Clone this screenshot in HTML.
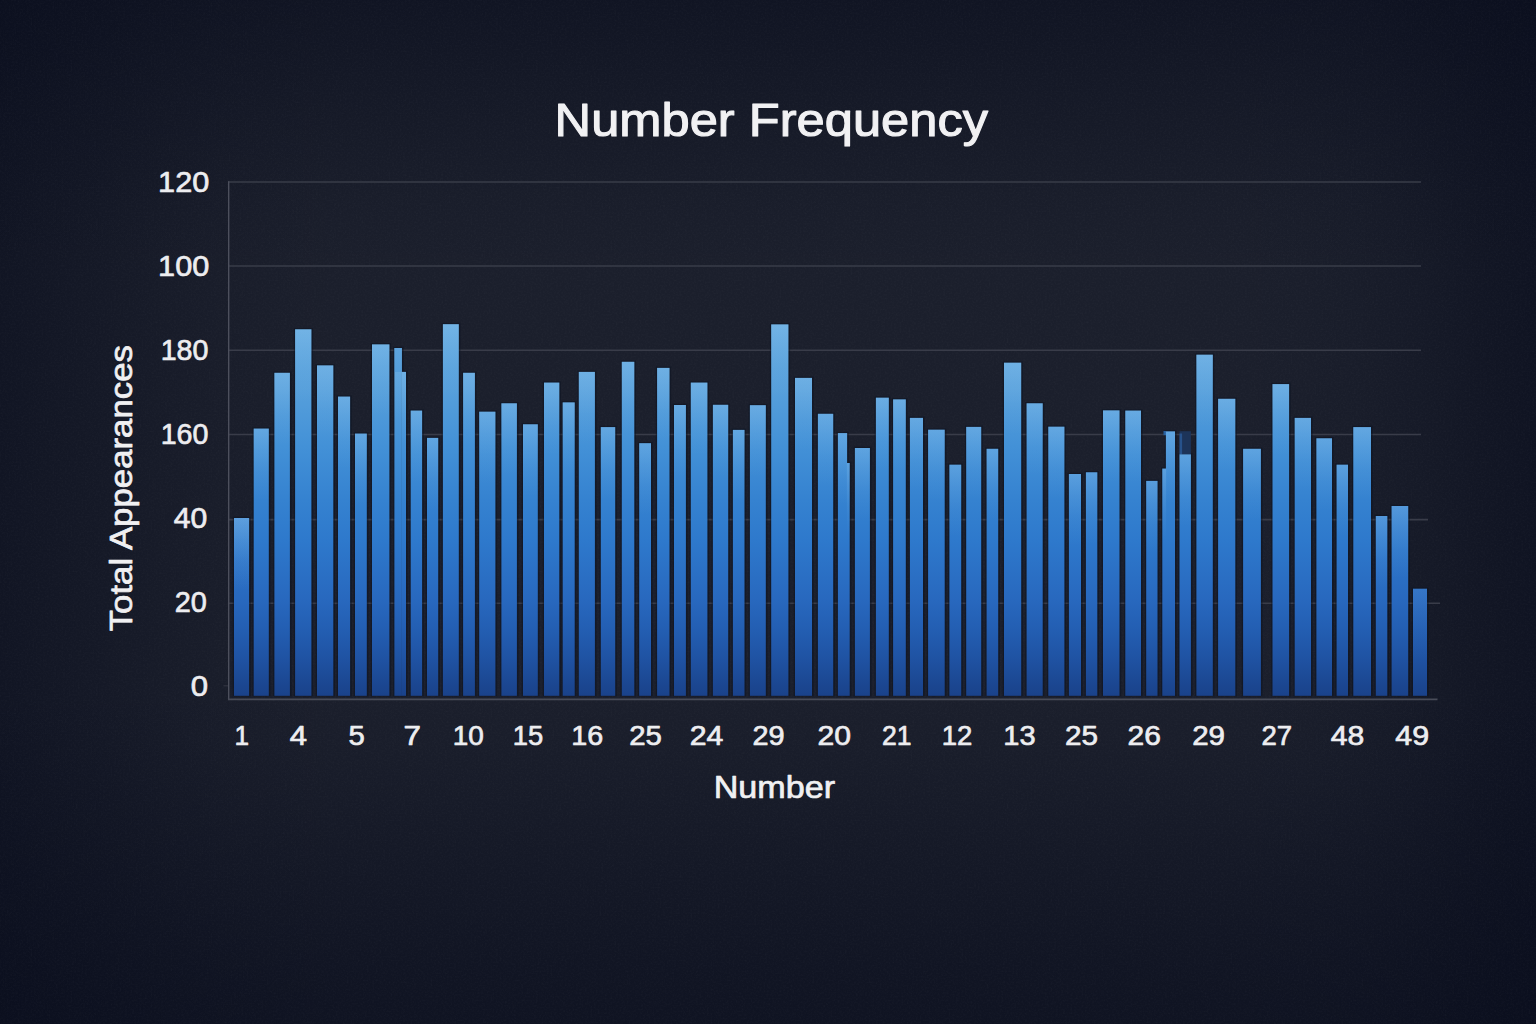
<!DOCTYPE html>
<html><head><meta charset="utf-8"><title>Number Frequency</title>
<style>
html,body{margin:0;padding:0;background:#10131f;}
body{width:1536px;height:1024px;overflow:hidden;font-family:"Liberation Sans",sans-serif;}
svg{display:block;}
text{font-family:"Liberation Sans",sans-serif;text-anchor:middle;stroke-linejoin:round;}
</style></head><body>
<svg width="1536" height="1024" viewBox="0 0 1536 1024">
<defs>
<linearGradient id="vh" x1="0" y1="0" x2="1536" y2="0" gradientUnits="userSpaceOnUse">
<stop offset="0.0000" stop-color="#070b1b" stop-opacity="0.5"/>
<stop offset="0.0326" stop-color="#070b1b" stop-opacity="0.4"/>
<stop offset="0.0651" stop-color="#070b1b" stop-opacity="0.31"/>
<stop offset="0.1042" stop-color="#070b1b" stop-opacity="0.19"/>
<stop offset="0.1432" stop-color="#070b1b" stop-opacity="0.09"/>
<stop offset="0.1953" stop-color="#070b1b" stop-opacity="0.02"/>
<stop offset="0.2344" stop-color="#070b1b" stop-opacity="0"/>
<stop offset="0.8008" stop-color="#070b1b" stop-opacity="0"/>
<stop offset="0.8464" stop-color="#070b1b" stop-opacity="0.04"/>
<stop offset="0.8854" stop-color="#070b1b" stop-opacity="0.12"/>
<stop offset="0.9245" stop-color="#070b1b" stop-opacity="0.26"/>
<stop offset="0.9674" stop-color="#070b1b" stop-opacity="0.46"/>
<stop offset="1.0000" stop-color="#070b1b" stop-opacity="0.58"/>
</linearGradient>
<linearGradient id="vv" x1="0" y1="0" x2="0" y2="1024" gradientUnits="userSpaceOnUse">
<stop offset="0.0000" stop-color="#070b1b" stop-opacity="0.52"/>
<stop offset="0.0488" stop-color="#070b1b" stop-opacity="0.41"/>
<stop offset="0.0977" stop-color="#070b1b" stop-opacity="0.29"/>
<stop offset="0.1465" stop-color="#070b1b" stop-opacity="0.19"/>
<stop offset="0.1953" stop-color="#070b1b" stop-opacity="0.08"/>
<stop offset="0.2441" stop-color="#070b1b" stop-opacity="0.02"/>
<stop offset="0.2832" stop-color="#070b1b" stop-opacity="0"/>
<stop offset="0.6738" stop-color="#070b1b" stop-opacity="0"/>
<stop offset="0.7227" stop-color="#070b1b" stop-opacity="0.07"/>
<stop offset="0.7812" stop-color="#070b1b" stop-opacity="0.2"/>
<stop offset="0.8594" stop-color="#070b1b" stop-opacity="0.36"/>
<stop offset="0.9277" stop-color="#070b1b" stop-opacity="0.48"/>
<stop offset="1.0000" stop-color="#070b1b" stop-opacity="0.58"/>
</linearGradient>
<linearGradient id="bar" x1="0" y1="324" x2="0" y2="696" gradientUnits="userSpaceOnUse">
<stop offset="0.0" stop-color="#5fa7de"/>
<stop offset="0.177" stop-color="#569fdb"/>
<stop offset="0.328" stop-color="#4391d7"/>
<stop offset="0.473" stop-color="#3582d0"/>
<stop offset="0.581" stop-color="#2e79cc"/>
<stop offset="0.742" stop-color="#2868be"/>
<stop offset="0.823" stop-color="#235eb2"/>
<stop offset="0.903" stop-color="#1f52a2"/>
<stop offset="0.973" stop-color="#1b4690"/>
<stop offset="1.0" stop-color="#1a428a"/>
</linearGradient>
<linearGradient id="hl" x1="0" y1="0" x2="0" y2="1">
<stop offset="0" stop-color="#9fd0f5" stop-opacity="0.30"/>
<stop offset="0.3" stop-color="#9fd0f5" stop-opacity="0.17"/>
<stop offset="0.6" stop-color="#9fd0f5" stop-opacity="0.07"/>
<stop offset="1" stop-color="#9fd0f5" stop-opacity="0"/>
</linearGradient>
<filter id="noise" x="0" y="0" width="100%" height="100%">
<feTurbulence type="fractalNoise" baseFrequency="0.55" numOctaves="2" seed="7" result="n"/>
<feColorMatrix type="matrix" values="0 0 0 0 1  0 0 0 0 1  0 0 0 0 1  0.5 0.5 0 0 -0.42"/>
</filter>
</defs>
<rect width="1536" height="1024" fill="#1b1f2c"/>
<rect width="1536" height="1024" fill="url(#vh)"/>
<rect width="1536" height="1024" fill="url(#vv)"/>
<rect width="1536" height="1024" filter="url(#noise)" opacity="0.07"/>

<g stroke="#393c49" stroke-width="1.6" fill="none">
<line x1="228" y1="182.0" x2="1421" y2="182.0"/>
<line x1="228" y1="266.0" x2="1421" y2="266.0"/>
<line x1="228" y1="350.3" x2="1421" y2="350.3"/>
<line x1="228" y1="434.5" x2="1421" y2="434.5"/>
<line x1="228" y1="519.6" x2="1428" y2="519.6"/>
<line x1="228" y1="603.2" x2="1440" y2="603.2"/>
</g>
<line x1="228.7" y1="181.2" x2="228.7" y2="700" stroke="#4c4f5c" stroke-width="1.4"/>
<line x1="223.5" y1="685.8" x2="228" y2="685.8" stroke="#30333f" stroke-width="1.2"/>
<g fill="#0c1322" opacity="0.5">
<rect x="232.7" y="516.7" width="18.1" height="179.6"/>
<rect x="252.4" y="427.3" width="18.1" height="269.0"/>
<rect x="273.1" y="371.5" width="18.5" height="324.8"/>
<rect x="293.8" y="328.0" width="19.3" height="368.3"/>
<rect x="315.7" y="364.1" width="19.3" height="332.2"/>
<rect x="336.7" y="395.3" width="15.1" height="301.0"/>
<rect x="353.7" y="432.3" width="14.8" height="264.0"/>
<rect x="370.7" y="343.1" width="20.4" height="353.2"/>
<rect x="393.1" y="346.7" width="10.5" height="349.6"/>
<rect x="400.4" y="370.6" width="7.3" height="325.7"/>
<rect x="409.4" y="409.3" width="14.4" height="287.0"/>
<rect x="425.7" y="436.6" width="14.2" height="259.7"/>
<rect x="441.6" y="322.9" width="18.9" height="373.4"/>
<rect x="461.8" y="371.5" width="14.8" height="324.8"/>
<rect x="477.9" y="410.4" width="19.2" height="285.9"/>
<rect x="500.1" y="402.0" width="18.5" height="294.3"/>
<rect x="521.7" y="423.0" width="17.8" height="273.3"/>
<rect x="542.7" y="381.3" width="18.3" height="315.0"/>
<rect x="561.4" y="401.1" width="15.0" height="295.2"/>
<rect x="577.5" y="370.6" width="19.1" height="325.7"/>
<rect x="599.5" y="425.8" width="17.4" height="270.5"/>
<rect x="620.5" y="360.5" width="15.5" height="335.8"/>
<rect x="637.9" y="441.9" width="14.8" height="254.4"/>
<rect x="655.8" y="366.6" width="15.4" height="329.7"/>
<rect x="672.7" y="403.7" width="14.9" height="292.6"/>
<rect x="689.5" y="381.3" width="19.6" height="315.0"/>
<rect x="711.6" y="403.5" width="18.3" height="292.8"/>
<rect x="731.6" y="428.6" width="14.6" height="267.7"/>
<rect x="748.6" y="403.9" width="18.9" height="292.4"/>
<rect x="769.9" y="323.1" width="20.2" height="373.2"/>
<rect x="793.7" y="376.6" width="20.0" height="319.7"/>
<rect x="816.6" y="412.5" width="18.3" height="283.8"/>
<rect x="836.6" y="431.8" width="12.2" height="264.5"/>
<rect x="845.6" y="461.7" width="5.8" height="234.6"/>
<rect x="853.6" y="446.7" width="18.0" height="249.6"/>
<rect x="874.6" y="396.4" width="15.9" height="299.9"/>
<rect x="891.8" y="398.1" width="15.7" height="298.2"/>
<rect x="908.6" y="416.6" width="16.1" height="279.7"/>
<rect x="926.8" y="428.4" width="19.6" height="267.9"/>
<rect x="948.1" y="463.4" width="14.8" height="232.9"/>
<rect x="964.9" y="425.6" width="18.0" height="270.7"/>
<rect x="985.3" y="447.5" width="14.6" height="248.8"/>
<rect x="1002.7" y="361.4" width="20.2" height="334.9"/>
<rect x="1025.3" y="402.0" width="19.1" height="294.3"/>
<rect x="1047.0" y="425.4" width="19.1" height="270.9"/>
<rect x="1067.6" y="472.7" width="15.1" height="223.6"/>
<rect x="1084.6" y="471.0" width="14.4" height="225.3"/>
<rect x="1101.7" y="409.1" width="19.5" height="287.2"/>
<rect x="1124.0" y="409.3" width="18.7" height="287.0"/>
<rect x="1144.9" y="479.6" width="14.3" height="216.7"/>
<rect x="1161.0" y="467.3" width="6.8" height="229.0"/>
<rect x="1164.6" y="430.1" width="12.1" height="266.2"/>
<rect x="1178.2" y="453.1" width="14.4" height="243.2"/>
<rect x="1195.1" y="353.4" width="19.4" height="342.9"/>
<rect x="1216.8" y="397.5" width="20.2" height="298.8"/>
<rect x="1241.8" y="447.5" width="20.8" height="248.8"/>
<rect x="1271.2" y="382.8" width="19.6" height="313.5"/>
<rect x="1293.4" y="416.6" width="19.3" height="279.7"/>
<rect x="1315.1" y="437.0" width="18.6" height="259.3"/>
<rect x="1335.3" y="463.4" width="14.4" height="232.9"/>
<rect x="1352.0" y="425.8" width="20.7" height="270.5"/>
<rect x="1374.5" y="514.7" width="14.5" height="181.6"/>
<rect x="1390.3" y="504.7" width="19.6" height="191.6"/>
<rect x="1411.7" y="587.4" width="17.0" height="108.9"/>
</g>
<rect x="1179.5" y="431.2" width="11.4" height="23.2" fill="#1d3459"/>
<rect x="1179.5" y="433.5" width="2.6" height="21" fill="#2b5c9c" opacity="0.75"/>
<rect x="1163.5" y="431.0" width="2.6" height="4.2" fill="#27609f"/>
<g fill="url(#bar)">
<rect x="234.0" y="518.0" width="15.1" height="177.8"/>
<rect x="253.7" y="428.6" width="15.1" height="267.2"/>
<rect x="274.4" y="372.8" width="15.5" height="323.0"/>
<rect x="295.1" y="329.3" width="16.3" height="366.5"/>
<rect x="317.0" y="365.4" width="16.3" height="330.4"/>
<rect x="338.0" y="396.6" width="12.1" height="299.2"/>
<rect x="355.0" y="433.6" width="11.8" height="262.2"/>
<rect x="372.0" y="344.4" width="17.4" height="351.4"/>
<rect x="394.4" y="348.0" width="7.5" height="347.8"/>
<rect x="401.7" y="371.9" width="4.3" height="323.9"/>
<rect x="410.7" y="410.6" width="11.4" height="285.2"/>
<rect x="427.0" y="437.9" width="11.2" height="257.9"/>
<rect x="442.9" y="324.2" width="15.9" height="371.6"/>
<rect x="463.1" y="372.8" width="11.8" height="323.0"/>
<rect x="479.2" y="411.7" width="16.2" height="284.1"/>
<rect x="501.4" y="403.3" width="15.5" height="292.5"/>
<rect x="523.0" y="424.3" width="14.8" height="271.5"/>
<rect x="544.0" y="382.6" width="15.3" height="313.2"/>
<rect x="562.7" y="402.4" width="12.0" height="293.4"/>
<rect x="578.8" y="371.9" width="16.1" height="323.9"/>
<rect x="600.8" y="427.1" width="14.4" height="268.7"/>
<rect x="621.8" y="361.8" width="12.5" height="334.0"/>
<rect x="639.2" y="443.2" width="11.8" height="252.6"/>
<rect x="657.1" y="367.9" width="12.4" height="327.9"/>
<rect x="674.0" y="405.0" width="11.9" height="290.8"/>
<rect x="690.8" y="382.6" width="16.6" height="313.2"/>
<rect x="712.9" y="404.8" width="15.3" height="291.0"/>
<rect x="732.9" y="429.9" width="11.6" height="265.9"/>
<rect x="749.9" y="405.2" width="15.9" height="290.6"/>
<rect x="771.2" y="324.4" width="17.2" height="371.4"/>
<rect x="795.0" y="377.9" width="17.0" height="317.9"/>
<rect x="817.9" y="413.8" width="15.3" height="282.0"/>
<rect x="837.9" y="433.1" width="9.2" height="262.7"/>
<rect x="846.9" y="463.0" width="2.8" height="232.8"/>
<rect x="854.9" y="448.0" width="15.0" height="247.8"/>
<rect x="875.9" y="397.7" width="12.9" height="298.1"/>
<rect x="893.1" y="399.4" width="12.7" height="296.4"/>
<rect x="909.9" y="417.9" width="13.1" height="277.9"/>
<rect x="928.1" y="429.7" width="16.6" height="266.1"/>
<rect x="949.4" y="464.7" width="11.8" height="231.1"/>
<rect x="966.2" y="426.9" width="15.0" height="268.9"/>
<rect x="986.6" y="448.8" width="11.6" height="247.0"/>
<rect x="1004.0" y="362.7" width="17.2" height="333.1"/>
<rect x="1026.6" y="403.3" width="16.1" height="292.5"/>
<rect x="1048.3" y="426.7" width="16.1" height="269.1"/>
<rect x="1068.9" y="474.0" width="12.1" height="221.8"/>
<rect x="1085.9" y="472.3" width="11.4" height="223.5"/>
<rect x="1103.0" y="410.4" width="16.5" height="285.4"/>
<rect x="1125.3" y="410.6" width="15.7" height="285.2"/>
<rect x="1146.2" y="480.9" width="11.3" height="214.9"/>
<rect x="1162.3" y="468.6" width="3.8" height="227.2"/>
<rect x="1165.9" y="431.4" width="9.1" height="264.4"/>
<rect x="1179.5" y="454.4" width="11.4" height="241.4"/>
<rect x="1196.4" y="354.7" width="16.4" height="341.1"/>
<rect x="1218.1" y="398.8" width="17.2" height="297.0"/>
<rect x="1243.1" y="448.8" width="17.8" height="247.0"/>
<rect x="1272.5" y="384.1" width="16.6" height="311.7"/>
<rect x="1294.7" y="417.9" width="16.3" height="277.9"/>
<rect x="1316.4" y="438.3" width="15.6" height="257.5"/>
<rect x="1336.6" y="464.7" width="11.4" height="231.1"/>
<rect x="1353.3" y="427.1" width="17.7" height="268.7"/>
<rect x="1375.8" y="516.0" width="11.5" height="179.8"/>
<rect x="1391.6" y="506.0" width="16.6" height="189.8"/>
<rect x="1413.0" y="588.7" width="14.0" height="107.1"/>
</g>
<g fill="url(#hl)">
<rect x="234.0" y="518.0" width="15.1" height="72.0"/>
<rect x="234.0" y="518.0" width="15.1" height="72.0" opacity="0.45"/>
<rect x="253.7" y="428.6" width="15.1" height="72.0"/>
<rect x="274.4" y="372.8" width="15.5" height="72.0"/>
<rect x="295.1" y="329.3" width="16.3" height="72.0"/>
<rect x="317.0" y="365.4" width="16.3" height="72.0"/>
<rect x="338.0" y="396.6" width="12.1" height="72.0"/>
<rect x="355.0" y="433.6" width="11.8" height="72.0"/>
<rect x="372.0" y="344.4" width="17.4" height="72.0"/>
<rect x="394.4" y="348.0" width="7.5" height="72.0"/>
<rect x="401.7" y="371.9" width="4.3" height="72.0"/>
<rect x="410.7" y="410.6" width="11.4" height="72.0"/>
<rect x="427.0" y="437.9" width="11.2" height="72.0"/>
<rect x="442.9" y="324.2" width="15.9" height="72.0"/>
<rect x="463.1" y="372.8" width="11.8" height="72.0"/>
<rect x="479.2" y="411.7" width="16.2" height="72.0"/>
<rect x="501.4" y="403.3" width="15.5" height="72.0"/>
<rect x="523.0" y="424.3" width="14.8" height="72.0"/>
<rect x="544.0" y="382.6" width="15.3" height="72.0"/>
<rect x="562.7" y="402.4" width="12.0" height="72.0"/>
<rect x="578.8" y="371.9" width="16.1" height="72.0"/>
<rect x="600.8" y="427.1" width="14.4" height="72.0"/>
<rect x="621.8" y="361.8" width="12.5" height="72.0"/>
<rect x="639.2" y="443.2" width="11.8" height="72.0"/>
<rect x="657.1" y="367.9" width="12.4" height="72.0"/>
<rect x="674.0" y="405.0" width="11.9" height="72.0"/>
<rect x="690.8" y="382.6" width="16.6" height="72.0"/>
<rect x="712.9" y="404.8" width="15.3" height="72.0"/>
<rect x="732.9" y="429.9" width="11.6" height="72.0"/>
<rect x="749.9" y="405.2" width="15.9" height="72.0"/>
<rect x="771.2" y="324.4" width="17.2" height="72.0"/>
<rect x="795.0" y="377.9" width="17.0" height="72.0"/>
<rect x="817.9" y="413.8" width="15.3" height="72.0"/>
<rect x="837.9" y="433.1" width="9.2" height="72.0"/>
<rect x="846.9" y="463.0" width="2.8" height="72.0"/>
<rect x="854.9" y="448.0" width="15.0" height="72.0"/>
<rect x="875.9" y="397.7" width="12.9" height="72.0"/>
<rect x="893.1" y="399.4" width="12.7" height="72.0"/>
<rect x="909.9" y="417.9" width="13.1" height="72.0"/>
<rect x="928.1" y="429.7" width="16.6" height="72.0"/>
<rect x="949.4" y="464.7" width="11.8" height="72.0"/>
<rect x="966.2" y="426.9" width="15.0" height="72.0"/>
<rect x="986.6" y="448.8" width="11.6" height="72.0"/>
<rect x="1004.0" y="362.7" width="17.2" height="72.0"/>
<rect x="1026.6" y="403.3" width="16.1" height="72.0"/>
<rect x="1048.3" y="426.7" width="16.1" height="72.0"/>
<rect x="1068.9" y="474.0" width="12.1" height="72.0"/>
<rect x="1085.9" y="472.3" width="11.4" height="72.0"/>
<rect x="1103.0" y="410.4" width="16.5" height="72.0"/>
<rect x="1125.3" y="410.6" width="15.7" height="72.0"/>
<rect x="1146.2" y="480.9" width="11.3" height="72.0"/>
<rect x="1162.3" y="468.6" width="3.8" height="72.0"/>
<rect x="1165.9" y="431.4" width="9.1" height="72.0"/>
<rect x="1179.5" y="454.4" width="11.4" height="72.0"/>
<rect x="1196.4" y="354.7" width="16.4" height="72.0"/>
<rect x="1218.1" y="398.8" width="17.2" height="72.0"/>
<rect x="1243.1" y="448.8" width="17.8" height="72.0"/>
<rect x="1272.5" y="384.1" width="16.6" height="72.0"/>
<rect x="1294.7" y="417.9" width="16.3" height="72.0"/>
<rect x="1316.4" y="438.3" width="15.6" height="72.0"/>
<rect x="1336.6" y="464.7" width="11.4" height="72.0"/>
<rect x="1353.3" y="427.1" width="17.7" height="72.0"/>
<rect x="1375.8" y="516.0" width="11.5" height="72.0"/>
<rect x="1391.6" y="506.0" width="16.6" height="72.0"/>
<rect x="1413.0" y="588.7" width="14.0" height="72.0" opacity="0.35"/>
</g>
<rect x="394.4" y="348.0" width="7.4" height="24" fill="#2f80cc" opacity="0.28"/>
<line x1="228" y1="699.3" x2="1437.5" y2="699.3" stroke="#494c59" stroke-width="1.7"/>
<text transform="translate(771.30 136.48) scale(1.0774 1)" font-size="47.01" fill="#f1f1f3" stroke="#f1f1f3" stroke-width="1.1">Number Frequency</text>
<text transform="translate(183.70 192.26) scale(1.0706 1)" font-size="28.66" fill="#ededf0" stroke="#ededf0" stroke-width="0.65">120</text>
<text transform="translate(183.70 276.26) scale(1.0706 1)" font-size="28.66" fill="#ededf0" stroke="#ededf0" stroke-width="0.65">100</text>
<text transform="translate(184.50 360.43) scale(0.9991 1)" font-size="28.66" fill="#ededf0" stroke="#ededf0" stroke-width="0.65">180</text>
<text transform="translate(184.50 444.24) scale(0.9991 1)" font-size="28.66" fill="#ededf0" stroke="#ededf0" stroke-width="0.65">160</text>
<text transform="translate(190.50 528.24) scale(1.0506 1)" font-size="28.66" fill="#ededf0" stroke="#ededf0" stroke-width="0.65">40</text>
<text transform="translate(190.70 611.81) scale(1.0083 1)" font-size="28.66" fill="#ededf0" stroke="#ededf0" stroke-width="0.65">20</text>
<text transform="translate(199.30 696.20) scale(1.0842 1)" font-size="28.66" fill="#ededf0" stroke="#ededf0" stroke-width="0.65">0</text>
<text transform="translate(241.70 745.26) scale(0.9773 1)" font-size="26.80" fill="#ededf0" stroke="#ededf0" stroke-width="0.65">1</text>
<text transform="translate(298.30 745.26) scale(1.1583 1)" font-size="26.80" fill="#ededf0" stroke="#ededf0" stroke-width="0.65">4</text>
<text transform="translate(356.60 745.26) scale(1.0923 1)" font-size="26.80" fill="#ededf0" stroke="#ededf0" stroke-width="0.65">5</text>
<text transform="translate(412.10 745.26) scale(1.1708 1)" font-size="26.80" fill="#ededf0" stroke="#ededf0" stroke-width="0.65">7</text>
<text transform="translate(468.20 745.26) scale(1.0422 1)" font-size="26.80" fill="#ededf0" stroke="#ededf0" stroke-width="0.65">10</text>
<text transform="translate(527.90 745.26) scale(1.0213 1)" font-size="26.80" fill="#ededf0" stroke="#ededf0" stroke-width="0.65">15</text>
<text transform="translate(587.20 745.26) scale(1.0711 1)" font-size="26.80" fill="#ededf0" stroke="#ededf0" stroke-width="0.65">16</text>
<text transform="translate(645.50 745.26) scale(1.0964 1)" font-size="26.80" fill="#ededf0" stroke="#ededf0" stroke-width="0.65">25</text>
<text transform="translate(706.60 745.26) scale(1.1286 1)" font-size="26.80" fill="#ededf0" stroke="#ededf0" stroke-width="0.65">24</text>
<text transform="translate(768.50 745.26) scale(1.0762 1)" font-size="26.80" fill="#ededf0" stroke="#ededf0" stroke-width="0.65">29</text>
<text transform="translate(834.20 745.26) scale(1.1249 1)" font-size="26.80" fill="#ededf0" stroke="#ededf0" stroke-width="0.65">20</text>
<text transform="translate(896.80 745.26) scale(0.9920 1)" font-size="26.80" fill="#ededf0" stroke="#ededf0" stroke-width="0.65">21</text>
<text transform="translate(957.00 745.26) scale(1.0267 1)" font-size="26.80" fill="#ededf0" stroke="#ededf0" stroke-width="0.65">12</text>
<text transform="translate(1019.40 745.26) scale(1.0836 1)" font-size="26.80" fill="#ededf0" stroke="#ededf0" stroke-width="0.65">13</text>
<text transform="translate(1081.50 745.26) scale(1.1072 1)" font-size="26.80" fill="#ededf0" stroke="#ededf0" stroke-width="0.65">25</text>
<text transform="translate(1144.20 745.29) scale(1.1191 1)" font-size="26.80" fill="#ededf0" stroke="#ededf0" stroke-width="0.65">26</text>
<text transform="translate(1208.60 745.26) scale(1.1011 1)" font-size="26.80" fill="#ededf0" stroke="#ededf0" stroke-width="0.65">29</text>
<text transform="translate(1276.80 745.26) scale(1.0280 1)" font-size="26.80" fill="#ededf0" stroke="#ededf0" stroke-width="0.65">27</text>
<text transform="translate(1347.50 745.26) scale(1.1234 1)" font-size="26.80" fill="#ededf0" stroke="#ededf0" stroke-width="0.65">48</text>
<text transform="translate(1412.20 745.26) scale(1.1343 1)" font-size="26.80" fill="#ededf0" stroke="#ededf0" stroke-width="0.65">49</text>
<text transform="translate(774.40 798.00) scale(1.0678 1)" font-size="31.97" fill="#f0f0f2" stroke="#f0f0f2" stroke-width="0.7">Number</text>
<text transform="translate(132.49 488.20) rotate(-90) scale(1.0938 1)" font-size="31.83" fill="#f0f0f2" stroke="#f0f0f2" stroke-width="0.7">Total Appearances</text>
</svg></body></html>
